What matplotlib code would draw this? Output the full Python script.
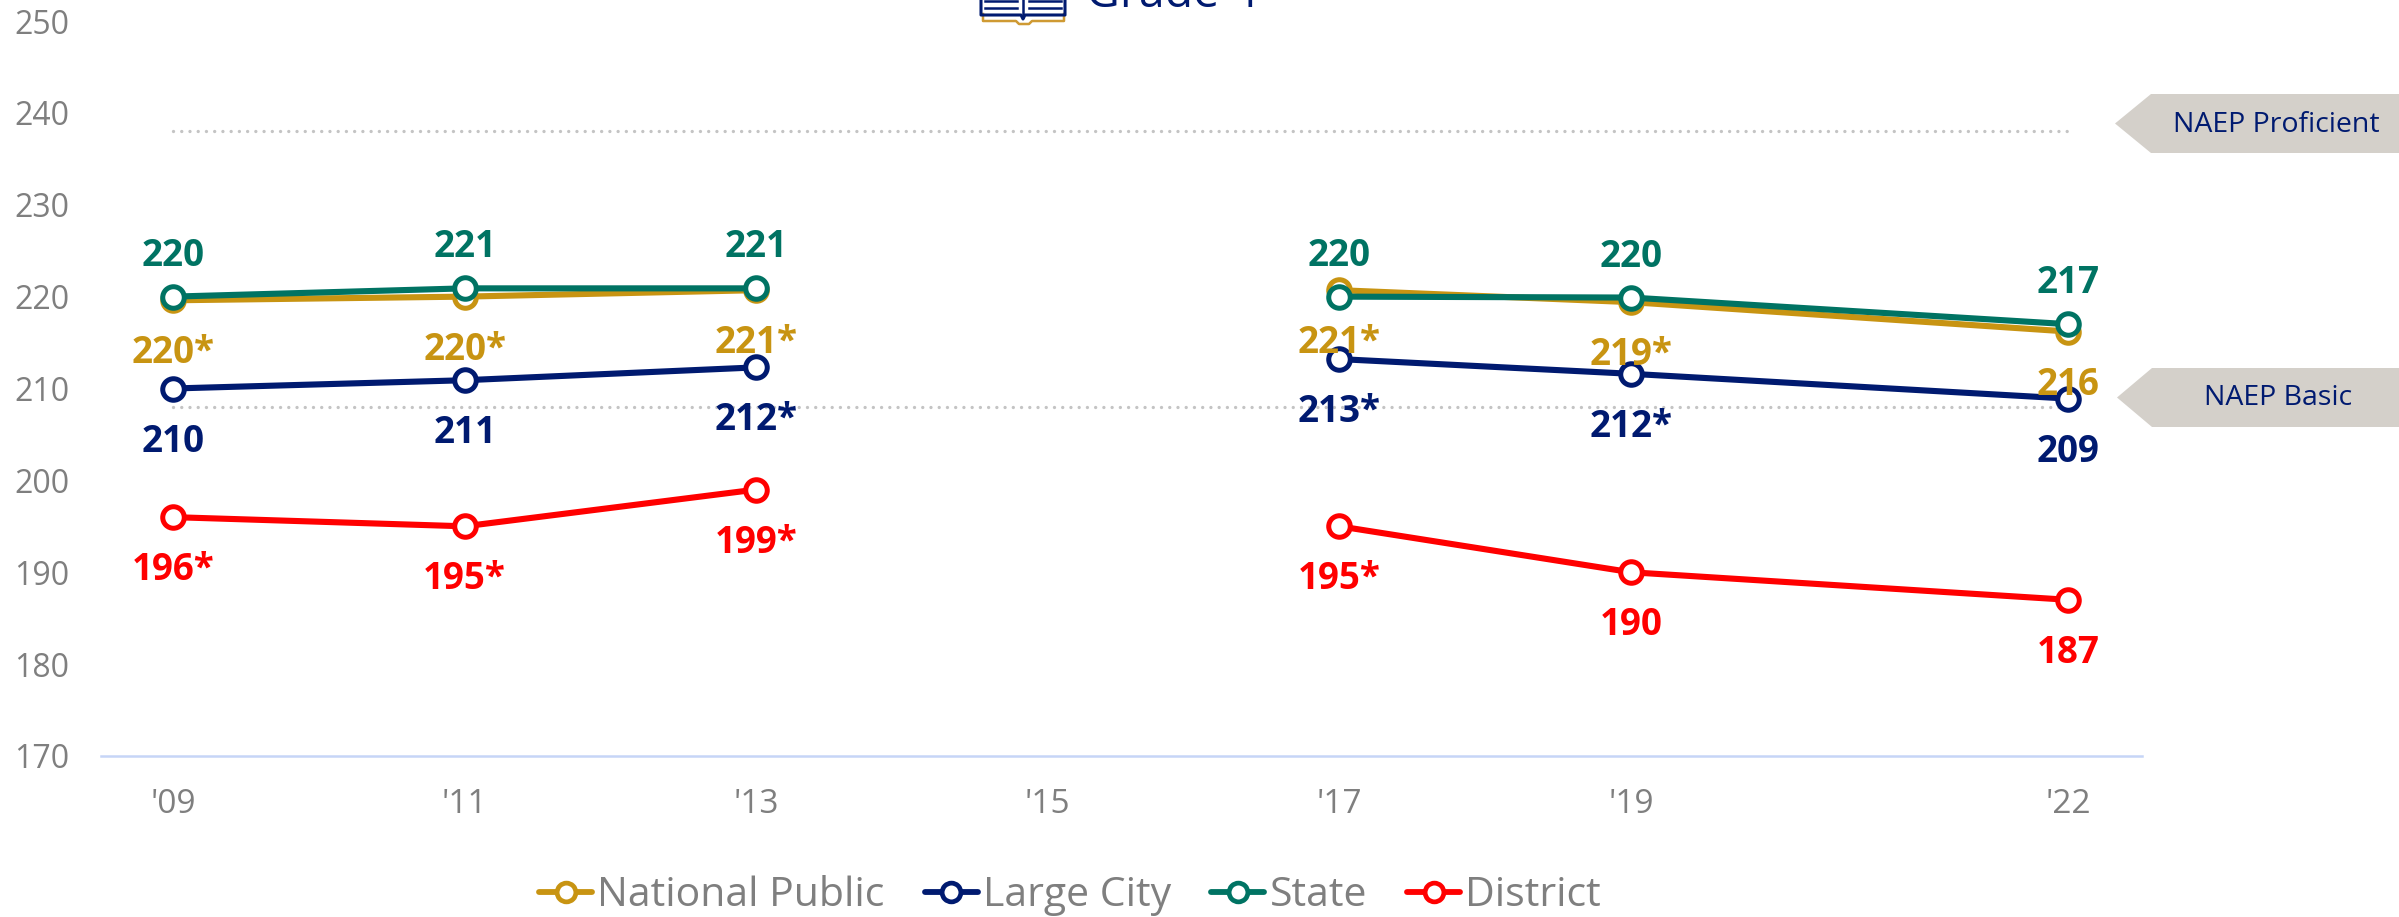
import numpy as np
import matplotlib
matplotlib.use("Agg")
import matplotlib.pyplot as plt
from matplotlib.patches import Polygon
from matplotlib.lines import Line2D

plt.rcParams["font.family"] = ["Open Sans", "DejaVu Sans"]

# Datos de la gráfica
years = [2009, 2011, 2013, 2015, 2017, 2019, 2022]
year_labels = ["'09", "'11", "'13", "'15", "'17", "'19", "'22"]

national = [219.6, 220.0, 220.7, np.nan, 220.7, 219.4, 216.2]
large_city = [210.0, 210.9, 212.3, np.nan, 213.2, 211.6, 208.9]
state = [220.0, 220.9, 220.9, np.nan, 220.0, 219.9, 217.0]
district = [196.0, 195.0, 199.0, np.nan, 195.0, 190.0, 187.0]

national_labels = ["220*", "220*", "221*", "", "221*", "219*", "216"]
large_city_labels = ["210", "211", "212*", "", "213*", "212*", "209"]
state_labels = ["220", "221", "221", "", "220", "220", "217"]
district_labels = ["196*", "195*", "199*", "", "195*", "190", "187"]

proficient_level = 238
basic_level = 208
y_ticks = [170, 180, 190, 200, 210, 220, 230, 240, 250]

GOLD = "#c89412"
NAVY = "#001a70"
GREEN = "#007363"
RED = "#ff0000"
GRAY = "#7f7f7f"
W, H = 2399, 917
PT = 72 / 100  # puntos por pixel a dpi 100


# Pasa pixeles de la imagen a coordenadas de figura
def px(x, y):
    return x / W, 1 - y / H


fig = plt.figure(figsize=(W / 100, H / 100), dpi=100)
left, right, top, bottom = 101, 2142, 21, 756
ax = fig.add_axes([left / W, 1 - bottom / H, (right - left) / W, (bottom - top) / H])
ax.patch.set_alpha(0)
ax.set_xlim(2009 + (left - 173) / 145.8, 2009 + (right - 173) / 145.8)
ax.set_ylim(170, 250)

for s in ["top", "left", "right"]:
    ax.spines[s].set_visible(False)
ax.spines["bottom"].set_color("#c6d5f7")
ax.spines["bottom"].set_linewidth(1.8)

ax.set_xticks(years)
ax.set_xticklabels(year_labels)
ax.set_yticks(y_ticks)
ax.tick_params(axis="x", length=0, labelsize=24, labelcolor=GRAY, pad=23)
ax.tick_params(axis="y", length=0, labelsize=23, labelcolor=GRAY, pad=23)

# Líneas de nivel NAEP
for level in [proficient_level, basic_level]:
    ax.plot([years[0], years[-1]], [level, level], color="#c4c4c4", lw=2.4,
            linestyle=(0, (0.01, 2.46)), dash_capstyle="round", zorder=1)

series = [
    (national, national_labels, GOLD, "National Public", -53),
    (large_city, large_city_labels, NAVY, "Large City", -53),
    (state, state_labels, GREEN, "State", 41),
    (district, district_labels, RED, "District", -53),
]

for values, labels, color, name, offset in series:
    ax.plot(years, values, color=color, lw=4.4, marker="o", ms=15.5, mew=3.6,
            mfc="white", mec=color, zorder=3, clip_on=False)
for values, labels, color, name, offset in series:
    for x, v, lab in zip(years, values, labels):
        if lab:
            ax.annotate(lab, (x, v), xytext=(0, offset * PT), textcoords="offset points",
                        ha="center", va="center", color=color, fontsize=26.5,
                        fontweight="bold", zorder=4)

# Etiquetas NAEP
flags = [
    ("NAEP Proficient", 2115, 2151, 94, 153, 2276, 125),
    ("NAEP Basic", 2117, 2152, 368, 427, 2278, 398),
]
for name, tip, body, y0, y1, tx, ty in flags:
    pts = [px(tip, (y0 + y1) / 2), px(body, y0), px(W, y0), px(W, y1), px(body, y1)]
    fig.add_artist(Polygon(pts, closed=True, transform=fig.transFigure, fc="#d4d0ca", ec="none"))
    fig.text(*px(tx, ty), name, ha="center", va="center", color=NAVY, fontsize=20.5)

# Título cortado arriba e icono del libro
fig.text(*px(1086, 7), "Grade 4", ha="left", va="baseline", color=NAVY, fontsize=33.5)
gold_x = [983, 983, 1016, 1019, 1029, 1032, 1064, 1064]
gold_y = [14, 21, 21, 24, 24, 21, 21, 14]
fig.add_artist(Line2D([a / W for a in gold_x], [1 - b / H for b in gold_y],
                      color="#cf9a33", lw=1.8))
cover_x = [981, 981, 1021, 1023, 1025, 1065, 1065]
cover_y = [-5, 15, 15, 19, 15, 15, -5]
fig.add_artist(Line2D([a / W for a in cover_x], [1 - b / H for b in cover_y],
                      color=NAVY, lw=2.2))
fig.add_artist(Line2D([1023 / W, 1023 / W], [1 - 0 / H, 1 - 17 / H], color=NAVY, lw=1.8))
for xa, xb in [(985, 1017), (1029, 1061)]:
    for yy in [1, 8]:
        fig.add_artist(Line2D([xa / W, xb / W], [1 - yy / H, 1 - yy / H], color=NAVY, lw=1.8))

# Leyenda
handles = [Line2D([], [], color=c, lw=4.2, marker="o", ms=13.5, mew=3.4, mfc="white", mec=c,
                  solid_capstyle="round")
           for _, _, c, _, _ in series]
names = [s[3] for s in series]
fig.legend(handles, names, loc="center", bbox_to_anchor=px(1070, 896), ncol=4, frameon=False,
           fontsize=29.5, labelcolor=GRAY, handlelength=1.3, handletextpad=0.12,
           columnspacing=0.98, borderpad=0, borderaxespad=0)

fig.savefig("out.png", dpi=100)
